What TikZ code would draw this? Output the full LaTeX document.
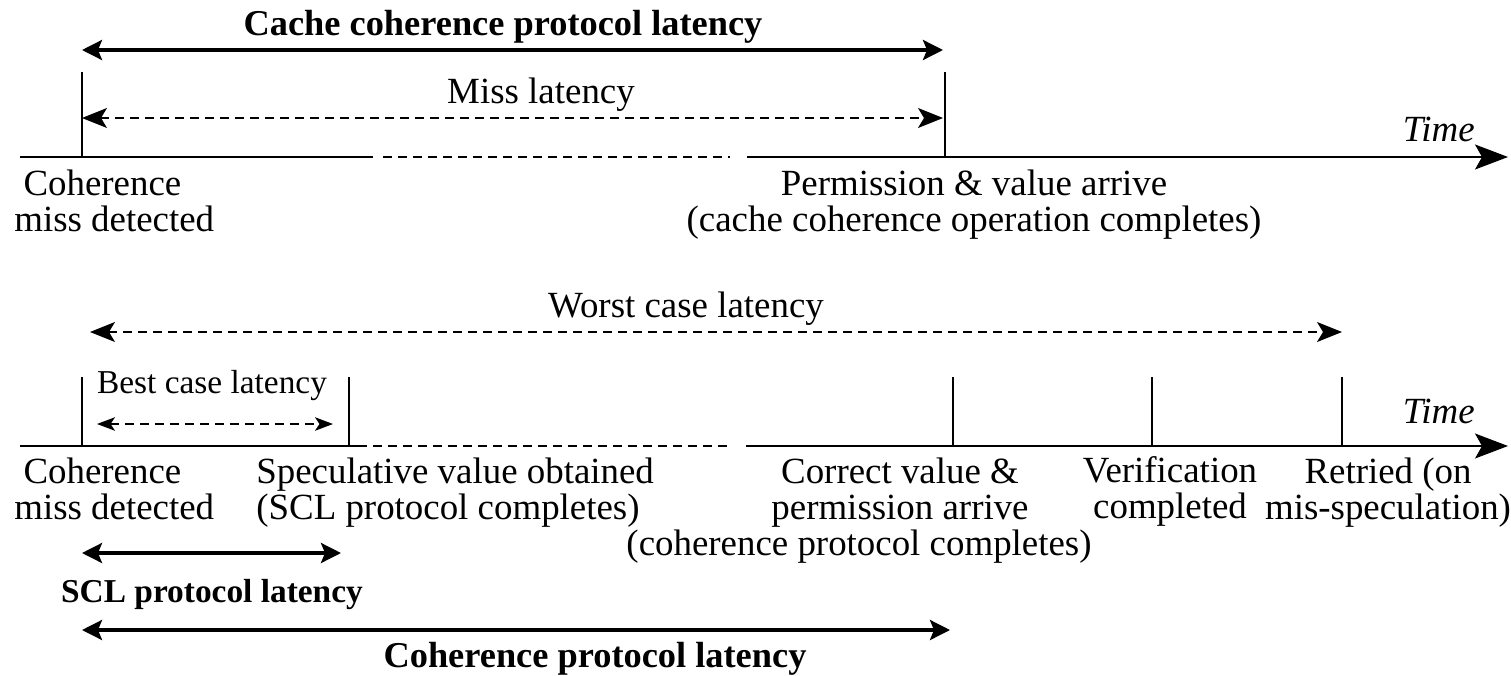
\documentclass[tikz,border=0pt]{standalone}
\usepackage{fontspec}
\setmainfont{Liberation Serif}
\usetikzlibrary{arrows.meta}

\tikzset{
  thin line/.style={line width=0.85pt},
  gap line/.style={thin line, dash pattern=on 0.18cm off 0.12cm},
  time axis/.style={thin line, -{Stealth[length=0.66cm,width=0.5cm,inset=0.14cm]}},
  lat span/.style={gap line, {Stealth[length=0.5cm,width=0.4cm,inset=0.12cm]}-{Stealth[length=0.5cm,width=0.4cm,inset=0.12cm]}},
  small span/.style={gap line, {Stealth[length=0.36cm,width=0.27cm,inset=0.09cm]}-{Stealth[length=0.36cm,width=0.27cm,inset=0.09cm]}},
  prot span/.style={line width=1.9pt, {Stealth[length=0.4cm,width=0.4cm,inset=0.08cm]}-{Stealth[length=0.4cm,width=0.4cm,inset=0.08cm]}},
  txt/.style={inner sep=0pt, font=\fontsize{21}{20.4}\selectfont},
  head/.style={inner sep=0pt, font=\fontsize{20.7}{22}\selectfont\bfseries},
}

\begin{document}
\begin{tikzpicture}[x=0.02cm, y=-0.02cm]
  \useasboundingbox (0,0) rectangle (1511,676);

  % conventional cache coherence
  \coordinate (tA) at (82,157);
  \coordinate (tB) at (945,157);

  \draw [thin line] (20,157) -- (373,157);
  \draw [gap line] (383,157) -- (730,157);
  \draw [time axis] (747,157) -- (1508,157);
  \node [txt, anchor=base east, font=\fontsize{21}{20.4}\selectfont\itshape] (timeA) at (1475,141) {Time};

  \draw [thin line] (tA) -- ++(0,-85);
  \draw [thin line] (tB) -- ++(0,-85);

  \node [head, anchor=base] (cclat) at (503,35) {Cache coherence protocol latency};
  \draw [prot span] (tA |- 0,50) -- (943,50);
  \node [txt, anchor=base] (misslat) at (541,103) {Miss latency};
  \draw [lat span] (tA |- 0,118) -- (943,118);

  \node [txt, anchor=north west, align=left] (missA) at (14,170) {\hspace{0.25em}Coherence\\miss detected};
  \node [txt, anchor=north, align=center] (permA) at (974,170) {Permission \& value arrive\\(cache coherence operation completes)};

  % speculative cache lookup
  \coordinate (sA) at (82,446);
  \coordinate (sB) at (349,446);
  \coordinate (sC) at (953,446);
  \coordinate (sD) at (1152,446);
  \coordinate (sE) at (1342,446);

  \draw [thin line] (20,446) -- (367,446);
  \draw [gap line] (373,446) -- (732,446);
  \draw [time axis] (746,446) -- (1508,446);
  \node [txt, anchor=base east, font=\fontsize{21}{20.4}\selectfont\itshape] (timeB) at (1475,423) {Time};

  \foreach \t in {sA,sB,sC,sD,sE}
    \draw [thin line] (\t) -- ++(0,-69);

  \node [txt, anchor=base] (worst) at (686,317) {Worst case latency};
  \draw [lat span] (90,332) -- (sE |- 0,332);
  \node [txt, anchor=base, font=\fontsize{19}{20}\selectfont] (best) at (212,393) {Best case latency};
  \draw [small span] (97,424) -- (333,424);

  \node [txt, anchor=north west, align=left] (missB) at (14,458) {\hspace{0.25em}Coherence\\miss detected};
  \node [txt, anchor=north west, align=left] (spec) at (256,458) {Speculative value obtained\\(SCL protocol completes)};
  \node [txt, anchor=north, align=center] (corr) at (900,458) {Correct value \&\\permission arrive};
  \node [txt, anchor=base] (corr2) at (859,555) {(coherence protocol completes)};
  \node [txt, anchor=north, align=center] (verif) at (1170,456) {Verification\\completed};
  \node [txt, anchor=north, align=center] (retry) at (1388,458) {Retried (on\\mis-speculation)};

  \draw [prot span] (sA |- 0,553) -- (341,553);
  \node [head, anchor=base, font=\fontsize{19}{20}\selectfont\bfseries] (scllat) at (212,602) {SCL protocol latency};
  \draw [prot span] (sA |- 0,630) -- (950,630);
  \node [head, anchor=base] (cplat) at (595,667) {Coherence protocol latency};
\end{tikzpicture}
\end{document}
